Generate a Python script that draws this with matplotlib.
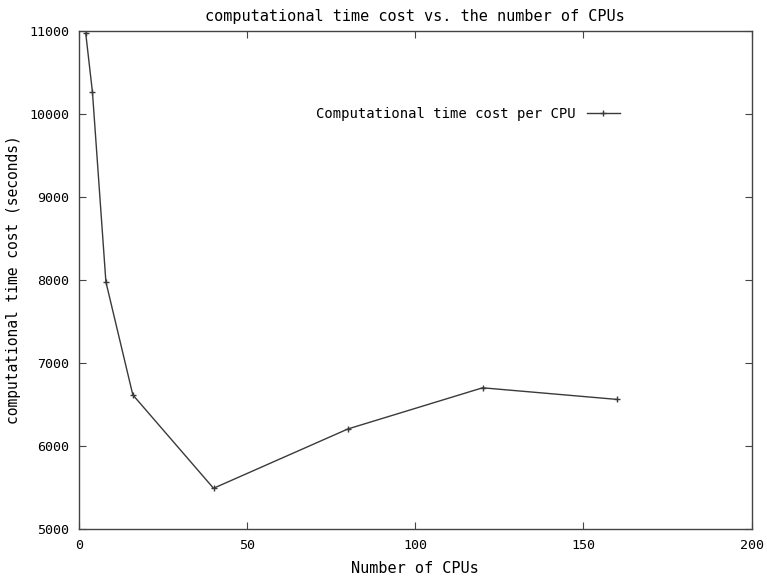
import matplotlib.pyplot as plt

# data
cpus = [2, 4, 8, 16, 40, 80, 120, 160]
time_cost = [10970, 10260, 7975, 6615, 5490, 6205, 6700, 6560]

plt.rcParams['font.family'] = ['DejaVu Sans Mono']

fig = plt.figure(figsize=(7.67, 5.8), dpi=100)
ax = fig.add_axes([0.103, 0.088, 0.877, 0.859])

ax.plot(cpus, time_cost, color='#3a3a3a', lw=1.0, marker='+', ms=5, mew=1.0,
        label='Computational time cost per CPU')

ax.set_xlim(0, 200)
ax.set_ylim(5000, 11000)
ax.set_xticks([0, 50, 100, 150, 200])
ax.set_yticks(range(5000, 11001, 1000))
ax.tick_params(direction='in', top=True, right=True, length=5, labelsize=9.6,
               pad=7, color='#444444')
for s in ax.spines.values():
    s.set_color('#444444')
    s.set_linewidth(1.0)

ax.set_title('computational time cost vs. the number of CPUs', fontsize=11, pad=7)
ax.set_xlabel('Number of CPUs', fontsize=11, labelpad=7)
ax.set_ylabel('computational time cost (seconds)', fontsize=10.5)
ax.yaxis.set_label_coords(-0.086, 0.5)

ax.legend(loc='center right', bbox_to_anchor=(0.823, 0.833), frameon=False,
          markerfirst=False, fontsize=10, handlelength=2.4)

fig.savefig('out.png', dpi=100)
